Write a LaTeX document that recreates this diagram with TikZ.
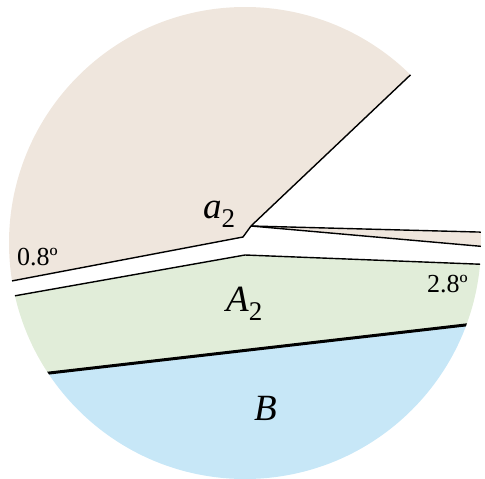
\documentclass[tikz,border=0pt]{standalone}
\usepackage{fontspec}
\setmainfont{Liberation Serif}
\definecolor{sandbeige}{HTML}{EFE6DD}
\definecolor{palegreen}{HTML}{E1EDD9}
\definecolor{paleblue}{HTML}{C7E7F7}
\newcommand{\sublabel}[2]{\textit{#1}\raisebox{-9pt}{\fontsize{27}{27}\selectfont #2}}

\begin{document}
\begin{tikzpicture}[x=1pt, y=-1pt, thin_line/.style={black, line width=1.4pt}, thick_line/.style={black, line width=3pt}, region_label/.style={font=\fontsize{37}{37}\selectfont, inner sep=0pt, anchor=base west}, angle_label/.style={font=\fontsize{26}{26}\selectfont, inner sep=0pt, anchor=base west}]
				\useasboundingbox (0,0) rectangle (485,479);
				\coordinate (C) at (245,243);
				\coordinate (V) at (251,226);
				\coordinate (K) at (243,237);
				\coordinate (G) at (245,255);
				\coordinate (R) at (442,45);
				\begin{scope}
				\clip (C) circle (236pt);
				\fill[sandbeige] (V) -- (R) -- (442,-40) -- (-20,-40) -- (-20,287) -- (K) -- cycle;
				\fill[sandbeige] (V) -- (500,232.6) -- (500,248) -- cycle;
				\fill[palegreen] (-20,302) -- (G) -- (500,265) -- (500,321) -- (-20,381) -- cycle;
				\fill[paleblue] (-20,381) -- (500,321) -- (500,520) -- (-20,520) -- cycle;
				\draw[thin_line] (-20,287) -- (K) -- (V) -- (R);
				\draw[thin_line] (V) -- (500,232.6);
				\draw[thin_line] (V) -- (500,248);
				\draw[thin_line] (-20,302) -- (G) -- (500,265);
				\draw[thick_line] (-20,381) -- (500,321);
				\end{scope}
				\node[region_label] (a2) at (203,218) {\sublabel{a}{2}};
				\node[region_label] (A2) at (226,311) {\sublabel{A}{2}};
				\node[region_label] (B) at (254,420) {\textit{B}};
				\node[angle_label] (left_angle) at (17,265) {0.8º};
				\node[angle_label] (right_angle) at (427,292) {2.8º};
			\end{tikzpicture}
\end{document}
